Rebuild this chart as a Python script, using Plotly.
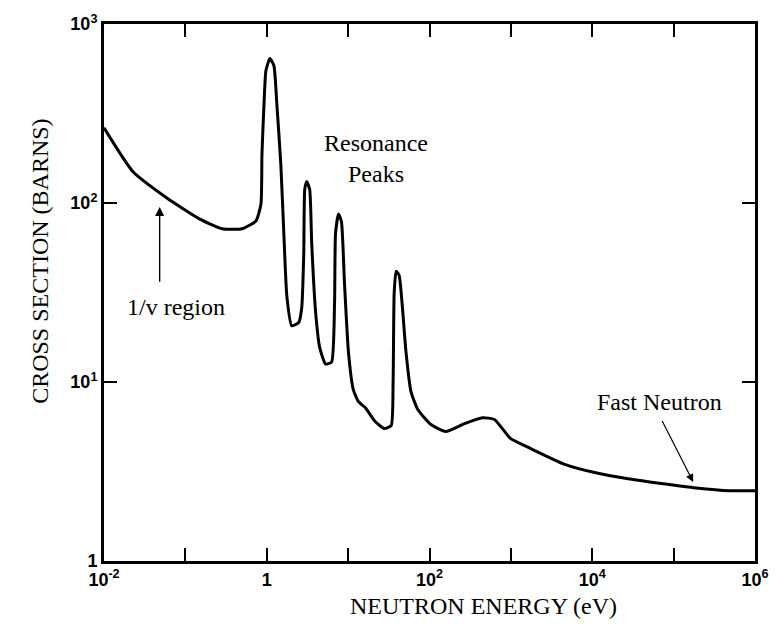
import plotly.graph_objects as go

# Neutron energy (eV) and cross section (barns)
energy_ev = [0.01, 0.0226, 0.0587, 0.1486, 0.284, 0.498, 0.738, 0.849, 0.873, 0.924,
             0.977, 1.094, 1.224, 1.333, 1.49, 1.622, 1.765, 2.03, 2.47, 2.69,
             2.85, 2.93, 3.10, 3.37, 3.57, 3.99, 4.47, 5.29, 6.26, 6.81,
             7.0, 7.62, 8.28, 9.02, 10.1, 11.6, 13.4, 16.3, 21.5, 27.7,
             33.8, 35.7, 36.8, 38.9, 42.3, 46.0, 51.5, 59.3, 72.1, 104,
             158, 270, 449, 629, 987, 1730, 4500, 11400, 28800, 74800,
             189000, 479000, 1000000]
cross_section_b = [263, 150, 107, 81.6, 71.8, 71.8, 79.5, 98.7, 187, 352,
                   550, 641, 586, 352, 164, 67.4, 30.2, 20.6, 21.5, 26.0,
                   52.3, 119, 132, 119, 59.4, 24.4, 15.6, 12.6, 12.9, 27.7,
                   67.4, 86.9, 78.5, 35.7, 14.6, 9.03, 7.76, 7.18, 6.01, 5.50,
                   5.71, 10.0, 31.4, 41.6, 39.5, 27.7, 14.6, 8.81, 7.0, 5.79,
                   5.29, 5.86, 6.32, 6.17, 4.84, 4.26, 3.48, 3.10, 2.87, 2.70,
                   2.56, 2.47, 2.47]

x_tick_vals = [1e-2, 1e-1, 1, 1e1, 1e2, 1e3, 1e4, 1e5, 1e6]
x_tick_text = ["10<sup>-2</sup>", "", "1", "", "10<sup>2</sup>", "",
               "10<sup>4</sup>", "", "10<sup>6</sup>"]
y_tick_vals = [1, 10, 100, 1000]
y_tick_text = ["1", "10<sup>1</sup>", "10<sup>2</sup>", "10<sup>3</sup>"]

serif = "Liberation Serif"
tickfont = dict(family="Liberation Sans", size=18, color="black", weight="bold")

fig = go.Figure()
fig.add_trace(go.Scatter(x=energy_ev, y=cross_section_b, mode="lines",
                         line=dict(color="black", width=3, shape="spline", smoothing=0.5),
                         hoverinfo="skip"))

axis_common = dict(showline=True, linecolor="black", linewidth=3, mirror="ticks",
                   ticks="inside", ticklen=13, tickwidth=2, tickcolor="black",
                   showgrid=False, zeroline=False, tickfont=tickfont)

fig.update_xaxes(type="log", range=[-2, 6], tickmode="array",
                 tickvals=x_tick_vals, ticktext=x_tick_text, **axis_common)
fig.update_yaxes(type="log", range=[0, 3], tickmode="array",
                 tickvals=y_tick_vals, ticktext=y_tick_text, **axis_common)

annfont = dict(family=serif, size=24, color="black")
fig.add_annotation(text="Resonance<br>Peaks", x=1.346, y=2.25, xref="x", yref="y",
                   showarrow=False, font=annfont)
fig.add_annotation(text="1/v region", x=-1.12, y=1.42, xref="x", yref="y",
                   showarrow=False, font=annfont)
fig.add_annotation(text="Fast Neutron", x=4.825, y=0.89, xref="x", yref="y",
                   showarrow=False, font=annfont)
# arrows
fig.add_annotation(x=-1.316, y=1.978, ax=-1.316, ay=1.552, xref="x", yref="y",
                   axref="x", ayref="y", text="", showarrow=True, arrowhead=2,
                   arrowsize=1.3, arrowwidth=1.4, arrowcolor="black")
fig.add_annotation(x=5.24, y=0.442, ax=4.85, ay=0.79, xref="x", yref="y",
                   axref="x", ayref="y", text="", showarrow=True, arrowhead=2,
                   arrowsize=1.3, arrowwidth=1.2, arrowcolor="black")
# axis titles (pixel positions converted to paper coordinates below)
fig.add_annotation(text="NEUTRON ENERGY (eV)", x=486, y=622,
                   showarrow=False, font=annfont)
fig.add_annotation(text="CROSS SECTION (BARNS)", x=25, y=258, textangle=-90,
                   showarrow=False, font=annfont)

W, H = 781, 639
L, R, T, B = 104, 22, 18, 78
pw, ph = W - L - R, H - T - B
for a in fig.layout.annotations[-2:]:
    px, py = a.x, a.y
    a.xref = "paper"
    a.yref = "paper"
    a.x = (px - L) / pw
    a.y = (H - B - py) / ph

fig.update_layout(width=W, height=H, margin=dict(l=L, r=R, t=T, b=B),
                  plot_bgcolor="white", paper_bgcolor="white", showlegend=False)

fig.write_html("out.html")
